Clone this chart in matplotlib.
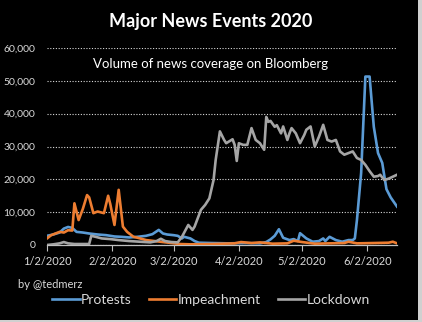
import matplotlib
matplotlib.use("Agg")
import matplotlib.pyplot as plt
from matplotlib.patches import Rectangle
import pandas as pd

# Daily news-volume readings (date in 2020, article count)
protests_dates = ["1/2", "1/5", "1/8", "1/10", "1/12", "1/14", "1/16", "1/19", "1/22",
                  "1/26", "1/30", "2/3", "2/6", "2/10", "2/14", "2/18", "2/21", "2/24",
                  "2/26", "2/28", "3/2", "3/4", "3/6", "3/7", "3/10", "3/12", "3/14",
                  "3/20", "3/28", "4/5", "4/12", "4/15", "4/17", "4/19", "4/21", "4/23",
                  "4/26", "4/28", "4/30", "5/1", "5/4", "5/7", "5/10", "5/12", "5/13",
                  "5/15", "5/18", "5/21", "5/24", "5/26", "5/27", "5/28", "5/30", "6/1",
                  "6/3", "6/5", "6/7", "6/9", "6/11", "6/13", "6/16"]
protests_values = [2800, 3200, 3800, 5000, 5500, 5200, 4000, 3800, 3500,
                   3200, 3000, 2600, 2500, 2300, 2500, 2800, 3300, 4600,
                   3500, 3200, 3000, 2800, 2000, 2500, 2000, 1200, 700,
                   600, 500, 600, 500, 900, 1700, 2800, 4800, 2200,
                   1500, 1800, 1200, 3600, 2000, 1000, 1200, 2000, 1200,
                   2500, 1500, 1000, 1500, 1500, 2000, 7600, 22000, 51300,
                   51300, 36000, 28000, 25000, 17000, 14500, 11700]

impeachment_dates = ["1/2", "1/4", "1/6", "1/8", "1/10", "1/12", "1/14", "1/15", "1/17",
                     "1/19", "1/21", "1/22", "1/24", "1/26", "1/29", "1/31", "2/1", "2/3",
                     "2/5", "2/7", "2/9", "2/12", "2/14", "2/18", "2/22", "2/26", "3/1",
                     "3/5", "3/10", "3/20", "3/31", "4/3", "4/8", "4/12", "4/18", "4/25",
                     "4/28", "5/2", "5/8", "5/15", "5/22", "5/24", "5/28", "6/5", "6/12",
                     "6/14", "6/16"]
impeachment_values = [2000, 3000, 3500, 4000, 3800, 4500, 4400, 12700, 7600,
                      11000, 15200, 14500, 9700, 10200, 9700, 15000, 12500, 6100,
                      16800, 5600, 4000, 2500, 2200, 1500, 1200, 900, 600,
                      300, 200, 300, 500, 900, 600, 800, 400, 500,
                      1300, 900, 400, 500, 600, 1000, 500, 600, 700,
                      1000, 500]

lockdown_dates = ["1/2", "1/5", "1/8", "1/10", "1/12", "1/15", "1/19", "1/22", "1/23",
                  "1/25", "1/28", "2/1", "2/5", "2/10", "2/15", "2/20", "2/23", "2/25",
                  "2/27", "3/1", "3/4", "3/6", "3/9", "3/11", "3/12", "3/15", "3/17",
                  "3/19", "3/21", "3/22", "3/24", "3/26", "3/27", "3/30", "3/31", "4/1",
                  "4/2", "4/4", "4/6", "4/8", "4/10", "4/12", "4/14", "4/15", "4/16",
                  "4/17", "4/19", "4/20", "4/22", "4/23", "4/25", "4/26", "4/27", "4/29",
                  "5/1", "5/3", "5/4", "5/6", "5/8", "5/10", "5/12", "5/14", "5/16",
                  "5/18", "5/20", "5/22", "5/24", "5/26", "5/28", "5/30", "6/1", "6/3",
                  "6/5", "6/7", "6/8", "6/10", "6/12", "6/14", "6/16"]
lockdown_values = [0, 200, 500, 900, 500, 300, 300, 300, 2800,
                   2500, 2000, 1800, 1500, 1200, 1000, 800, 1200, 1900,
                   1200, 900, 800, 2500, 6100, 4600, 5600, 10700, 12200,
                   14200, 19800, 25900, 34600, 32000, 31000, 32200, 30500, 25600,
                   31000, 30500, 30500, 35600, 32000, 31000, 29000, 39000, 37500,
                   37800, 36000, 36500, 34000, 36100, 32000, 34000, 35600, 34000,
                   31000, 33500, 35100, 36100, 30000, 33000, 36600, 32000, 31500,
                   32000, 28500, 27500, 28000, 28500, 26500, 25900, 24400, 22500,
                   20800, 21000, 21400, 19800, 20200, 20800, 21400]

series_names = ["Protests", "Impeachment", "Lockdown"]
series_colors = ["#5B9BD5", "#ED7D31", "#A5A5A5"]

tick_labels = ["1/2/2020", "2/2/2020", "3/2/2020", "4/2/2020", "5/2/2020", "6/2/2020"]
y_ticks = [0, 10000, 20000, 30000, 40000, 50000, 60000]


def to_dates(days):
    return pd.to_datetime([d + "/2020" for d in days], format="%m/%d/%Y")


plt.rcParams["font.family"] = ["Lato", "DejaVu Sans"]

fig = plt.figure(figsize=(4.22, 3.22), dpi=100)
fig.patch.set_facecolor("#d0d0d0")
fig.patches.append(Rectangle((0, 0.007), 0.991, 0.993, transform=fig.transFigure,
                             facecolor="black", edgecolor="none", zorder=-10))

ax = fig.add_axes([47 / 422, 1 - 245 / 322, 350 / 422, 197 / 322])
ax.set_facecolor("black")

series = [(protests_dates, protests_values),
          (impeachment_dates, impeachment_values),
          (lockdown_dates, lockdown_values)]
for (dts, vals), name, color in zip(series, series_names, series_colors):
    ax.plot(to_dates(dts), vals, color=color, linewidth=1.9, label=name,
            solid_joinstyle="round", zorder=3)

ax.set_xlim(pd.Timestamp("2020-01-02"), pd.Timestamp("2020-06-16"))
ax.set_ylim(0, 60000)

ax.set_yticks(y_ticks)
ax.set_yticklabels([f"{v:,}" for v in y_ticks])
ax.set_xticks(pd.to_datetime(tick_labels, format="%m/%d/%Y"))
ax.set_xticklabels(tick_labels)

ax.tick_params(axis="y", length=0, labelsize=7.5, labelcolor="#d9d9d9", pad=8.5)
ax.tick_params(axis="x", length=4, color="#bfbfbf", labelsize=8,
               labelcolor="#d9d9d9", pad=4)

ax.grid(axis="y", color="#d9d9d9", linestyle=(0, (1, 1.5)), linewidth=0.8)
ax.set_axisbelow(True)
for side in ("top", "right", "left"):
    ax.spines[side].set_visible(False)
ax.spines["bottom"].set_color("#bfbfbf")
ax.spines["bottom"].set_linewidth(0.9)

fig.text(0.5, 1 - 22 / 322, "Major News Events 2020", ha="center", va="center",
         color="white", fontsize=13, fontweight="bold")
fig.text(0.5, 1 - 64 / 322, "Volume of news coverage on Bloomberg", ha="center",
         va="center", color="white", fontsize=9.5)
fig.text(18 / 422, 1 - 284 / 322, "by @tedmerz", ha="left", va="center",
         color="#d9d9d9", fontsize=8)

leg = fig.legend(loc="center", bbox_to_anchor=(0.5, 1 - 300 / 322), ncol=3,
                 frameon=False, fontsize=10, handlelength=2.0, handletextpad=0.1,
                 columnspacing=1.2, borderaxespad=0)
for text in leg.get_texts():
    text.set_color("#d9d9d9")

fig.savefig("out.png", dpi=100, facecolor=fig.get_facecolor())
